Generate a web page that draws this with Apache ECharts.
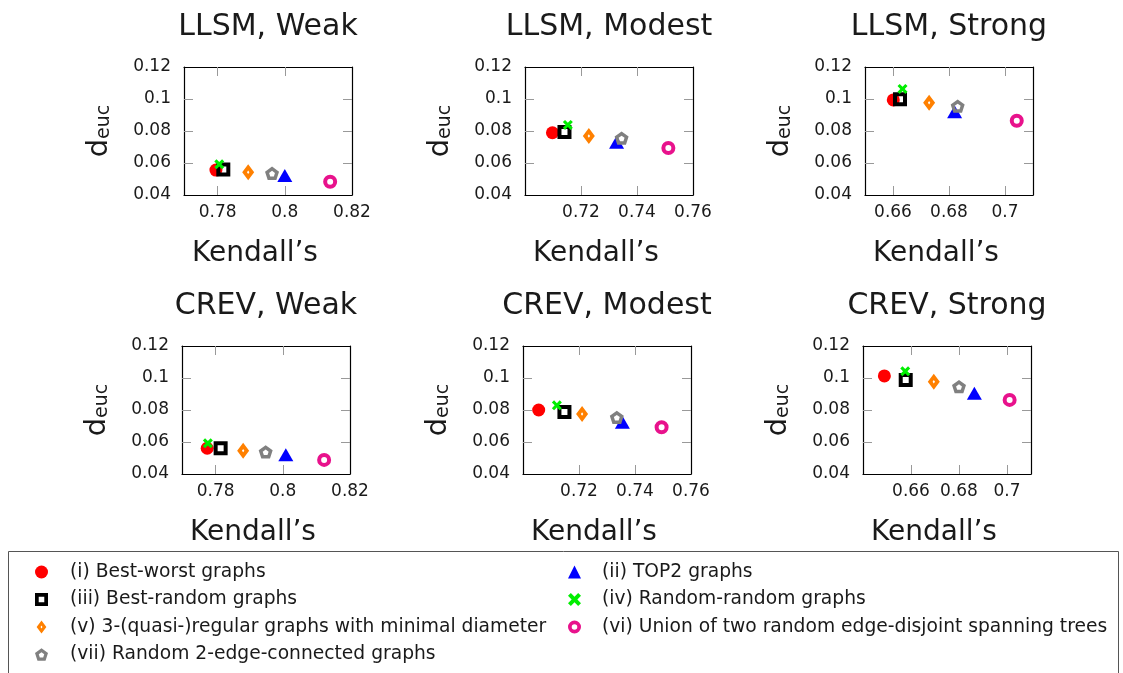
<!DOCTYPE html>
<html><head><meta charset="utf-8">
<script src="https://cdn.jsdelivr.net/npm/echarts@6/dist/echarts.min.js"></script>
<style>html,body{margin:0;padding:0;background:#fff}#c{width:1123px;height:673px}</style>
</head><body><div id="c"></div>
<script>
// ---------- data ----------
const panelTitles = ['LLSM, Weak', 'LLSM, Modest', 'LLSM, Strong', 'CREV, Weak', 'CREV, Modest', 'CREV, Strong'];
const xMins = [0.77, 0.70, 0.65, 0.77, 0.70, 0.64];
const xMaxs = [0.82, 0.76, 0.71, 0.82, 0.76, 0.71];
const xTickLabels = [
  [0.78, 0.80, 0.82], [0.72, 0.74, 0.76], [0.66, 0.68, 0.70],
  [0.78, 0.80, 0.82], [0.72, 0.74, 0.76], [0.66, 0.68, 0.70]
];
const yMin = 0.04, yMax = 0.12;
const yTickLabels = [0.04, 0.06, 0.08, 0.10, 0.12];
const xAxisName = 'Kendall\u2019s';
const seriesNames = [
  '(i) Best-worst graphs',
  '(ii) TOP2 graphs',
  '(iii) Best-random graphs',
  '(iv) Random-random graphs',
  '(v) 3-(quasi-)regular graphs with minimal diameter',
  '(vi) Union of two random edge-disjoint spanning trees',
  '(vii) Random 2-edge-connected graphs'
];
// one [kendall, d_euc] point per panel (panel order as panelTitles)
const bestWorst     = [[0.7795, 0.0556], [0.7098, 0.0789], [0.6601, 0.0994], [0.7775, 0.0561], [0.7056, 0.0800], [0.6489, 0.1013]];
const top2          = [[0.8000, 0.0522], [0.7327, 0.0729], [0.6820, 0.0921], [0.8009, 0.0521], [0.7355, 0.0723], [0.6864, 0.0904]];
const bestRandom    = [[0.7817, 0.0560], [0.7141, 0.0794], [0.6625, 0.0998], [0.7815, 0.0561], [0.7148, 0.0788], [0.6578, 0.0988]];
const randomRandom  = [[0.7805, 0.0592], [0.7153, 0.0838], [0.6634, 0.1063], [0.7777, 0.0592], [0.7121, 0.0829], [0.6576, 0.1042]];
const regular3      = [[0.7891, 0.0542], [0.7228, 0.0769], [0.6729, 0.0977], [0.7882, 0.0546], [0.7211, 0.0775], [0.6695, 0.0977]];
const spanningTrees = [[0.8135, 0.0483], [0.7512, 0.0694], [0.7042, 0.0864], [0.8123, 0.0488], [0.7495, 0.0692], [0.7011, 0.0863]];
const edge2         = [[0.7962, 0.0536], [0.7345, 0.0756], [0.6831, 0.0956], [0.7949, 0.0538], [0.7335, 0.0754], [0.6800, 0.0946]];
const seriesData = [bestWorst, top2, bestRandom, randomRandom, regular3, spanningTrees, edge2];

// ---------- styles / layout ----------
const FONT = "'DejaVu Sans', sans-serif";
const TXT = '#1a1a1a';
const X_PATH = 'path://M0,2.2 L2.2,0 L5,2.8 L7.8,0 L10,2.2 L7.2,5 L10,7.8 L7.8,10 L5,7.2 L2.2,10 L0,7.8 L2.8,5 Z';
const SQ_RING = 'path://M0,0 L14,0 L14,14 L0,14 Z M4,4 L4,10 L10,10 L10,4 Z';
const CIRC_RING = 'path://M7,0 A7,7 0 1,1 7,14 A7,7 0 1,1 7,0 Z M7,4 A3,3 0 1,0 7,10 A3,3 0 1,0 7,4 Z';
const DIA_RING = 'path://M6,0 L12,8 L6,16 L0,8 Z M6,6.3 L4.8,8 L6,9.7 L7.2,8 Z';
const PENT_RING = 'path://M0,-1 L0.951,-0.309 L0.588,0.809 L-0.588,0.809 L-0.951,-0.309 Z ' +
  'M0,-0.42 L-0.4,-0.13 L-0.247,0.34 L0.247,0.34 L0.4,-0.13 Z';
const markerStyles = [
  { symbol: 'circle', symbolSize: 13, itemStyle: { color: '#ff0000', opacity: 1 } },
  { symbol: 'triangle', symbolSize: [15, 13], itemStyle: { color: '#0000ff', opacity: 1 } },
  { symbol: SQ_RING, symbolSize: 14, itemStyle: { color: '#000000', opacity: 1 } },
  { symbol: X_PATH, symbolSize: 10, itemStyle: { color: '#00ee00', opacity: 1 } },
  { symbol: DIA_RING, symbolSize: [12, 16], itemStyle: { color: '#ff8000', opacity: 1 } },
  { symbol: CIRC_RING, symbolSize: 14, itemStyle: { color: '#e8128c', opacity: 1 } },
  { symbol: PENT_RING, symbolSize: [14, 13.3], itemStyle: { color: '#808080', opacity: 1 } }
];
const gridLefts = [184, 525, 865, 182, 523, 863];
const gridTops = [67, 67, 67, 346, 346, 346];
const GW = 168, GH = 128;

const fmt = v => String(Math.round(v * 100) / 100);
const grids = [], xAxes = [], yAxes = [], series = [];
for (let p = 0; p < 6; p++) {
  grids.push({ left: gridLefts[p], top: gridTops[p], width: GW, height: GH, containLabel: false });
  const inner = xTickLabels[p].filter(v => v > xMins[p] + 1e-9 && v < xMaxs[p] - 1e-9);
  const tickStyle = { show: true, inside: true, length: 9, customValues: inner, lineStyle: { color: '#999', width: 1 } };
  const lineStyle = { show: true, onZero: false, lineStyle: { color: '#000', width: 1.2 } };
  xAxes.push({
    gridIndex: p, type: 'value', position: 'bottom', min: xMins[p], max: xMaxs[p],
    axisLine: lineStyle, axisTick: tickStyle, splitLine: { show: false },
    axisLabel: { customValues: xTickLabels[p], margin: 9, fontSize: 17, fontFamily: FONT, color: TXT, formatter: fmt },
    name: xAxisName, nameLocation: 'middle', nameGap: 45,
    nameTextStyle: { fontSize: 28, fontFamily: FONT, color: TXT, padding: [0, 26, 0, 0] }
  });
  xAxes.push({
    gridIndex: p, type: 'value', position: 'top', min: xMins[p], max: xMaxs[p],
    axisLine: lineStyle, axisTick: tickStyle, splitLine: { show: false },
    axisLabel: { show: false },
    name: panelTitles[p], nameLocation: 'middle', nameGap: 25,
    nameTextStyle: { fontSize: 30, fontFamily: FONT, color: TXT }
  });
  const yTickStyle = { show: true, inside: true, length: 9, customValues: yTickLabels.filter(v => v > yMin + 1e-9 && v < yMax - 1e-9), lineStyle: { color: '#999', width: 1 } };
  yAxes.push({
    gridIndex: p, type: 'value', position: 'left', min: yMin, max: yMax, interval: 0.02,
    axisLine: lineStyle, axisTick: yTickStyle, splitLine: { show: false },
    axisLabel: { customValues: yTickLabels, margin: 13, fontSize: 17, fontFamily: FONT, color: TXT, formatter: fmt },
    name: '{d|d}{s|euc}', nameLocation: 'middle', nameGap: 70,
    nameTextStyle: {
      color: TXT, fontFamily: FONT,
      rich: {
        d: { fontSize: 29, lineHeight: 34, verticalAlign: 'bottom', fontFamily: FONT, color: TXT },
        s: { fontSize: 19, lineHeight: 20, verticalAlign: 'bottom', fontFamily: FONT, color: TXT }
      }
    }
  });
  yAxes.push({
    gridIndex: p, type: 'value', position: 'right', min: yMin, max: yMax, interval: 0.02,
    axisLine: lineStyle, axisTick: yTickStyle, splitLine: { show: false }, axisLabel: { show: false }
  });
  for (let s = 0; s < seriesNames.length; s++) {
    series.push(Object.assign({
      type: 'scatter', name: seriesNames[s], xAxisIndex: 2 * p, yAxisIndex: 2 * p,
      data: [seriesData[s][p]], emphasis: { disabled: true }, silent: true
    }, JSON.parse(JSON.stringify(markerStyles[s]))));
  }
}

const legendText = { fontSize: 18.7, lineHeight: 20, fontFamily: FONT, color: TXT, padding: [0, 0, 0, 17] };
const option = {
  animation: false,
  backgroundColor: '#ffffff',
  grid: grids, xAxis: xAxes, yAxis: yAxes, series: series,
  legend: [
    {
      left: 35, top: 562, orient: 'vertical', itemWidth: 13, itemHeight: 13, itemGap: 7.5, padding: 0,
      selectedMode: false, textStyle: legendText,
      data: seriesNames.filter((n, i) => i % 2 === 0)
    },
    {
      left: 568, top: 562, orient: 'vertical', itemWidth: 13, itemHeight: 13, itemGap: 7.5, padding: 0,
      selectedMode: false, textStyle: Object.assign({}, legendText, { padding: [0, 0, 0, 16] }),
      data: seriesNames.filter((n, i) => i % 2 === 1)
    }
  ],
  graphic: [
    { type: 'rect', silent: true, z: -10, shape: { x: 8.5, y: 551.5, width: 1110, height: 140 },
      style: { fill: 'none', stroke: '#555', lineWidth: 1 } }
  ]
};
const chart = echarts.init(document.getElementById('c'), null, { renderer: 'canvas' });
chart.setOption(option);
</script></body></html>
